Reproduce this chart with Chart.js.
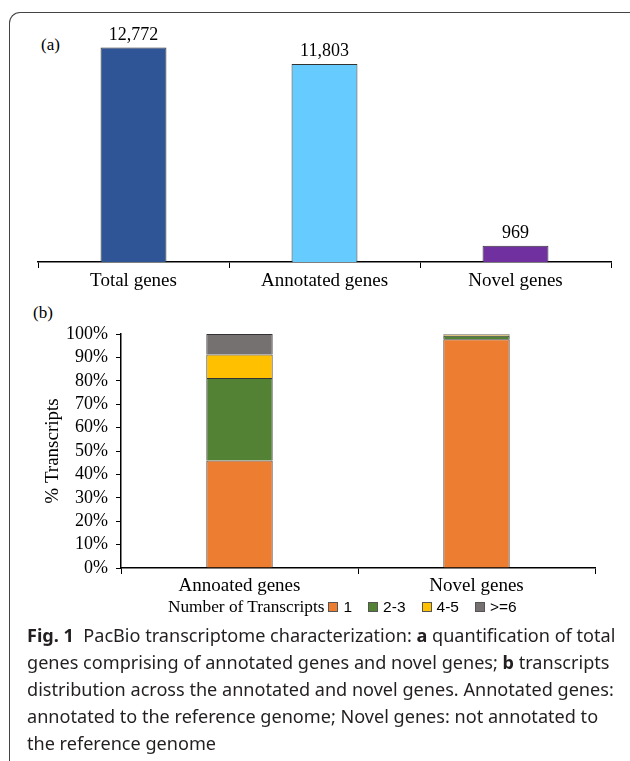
<!DOCTYPE html>
<html>
<head>
<meta charset="utf-8">
<script src="https://cdn.jsdelivr.net/npm/chart.js@4"></script>
<style>
  html, body { margin: 0; padding: 0; background: #fff; }
  body { width: 630px; height: 761px; position: relative; overflow: hidden; }
  .frame {
    position: absolute; left: 9px; top: 12px; width: 640px; height: 800px;
    border-top: 1px solid #444; border-left: 1px solid #444; border-top-left-radius: 11px;
  }
  .chart-box { position: absolute; left: 0; width: 630px; }
  .panel-label { position: absolute; font-family: "Liberation Serif", serif; font-size: 17px; color: #000; }
  .legend {
    position: absolute; left: 168px; top: 597px; display: flex; align-items: center;
    font-family: "Liberation Sans", sans-serif; font-size: 15.5px; color: #000; white-space: nowrap;
  }
  .legend .legend-title { font-family: "Liberation Serif", serif; font-size: 17.3px; margin-right: 4px; }
  .legend .swatch { width: 8px; height: 8px; border: 1px solid #555; margin-right: 5px; }
  .legend .item { display: flex; align-items: center; margin-right: 16px; }
  .caption {
    position: absolute; left: 27px; top: 622px; width: 600px;
    font-family: "Noto Sans", sans-serif; font-size: 18.1px; line-height: 27px; color: #231f20;
    white-space: nowrap;
  }
</style>
</head>
<body>
<div class="frame"></div>
<div class="panel-label" style="left:41px;top:35px;">(a)</div>
<div class="panel-label" style="left:33px;top:303px;">(b)</div>
<div class="chart-box" style="top:0;height:300px;"><canvas id="geneCountChart" width="630" height="300"></canvas></div>
<div class="chart-box" style="top:300px;height:300px;"><canvas id="transcriptChart" width="630" height="300"></canvas></div>
<div class="legend" id="transcriptLegend"><span class="legend-title">Number of Transcripts</span></div>
<div class="caption">
  <b>Fig. 1</b>&nbsp;&nbsp;PacBio transcriptome characterization: <b>a</b> quantification of total<br>
  genes comprising of annotated genes and novel genes; <b>b</b> transcripts<br>
  distribution across the annotated and novel genes. Annotated genes:<br>
  annotated to the reference genome; Novel genes: not annotated to<br>
  the reference genome
</div>

<script>
// Panel (a) data
var geneCategories = ["Total genes", "Annotated genes", "Novel genes"];
var geneCounts = [12772, 11803, 969];
var geneColors = ["#2F5597", "#66CCFF", "#7030A0"];

// Panel (b) data
var transcriptCategories = ["Annoated genes", "Novel genes"];
var transcriptGroups = ["1", "2-3", "4-5", ">=6"];
var share1 = [45.9, 97.8];
var share2to3 = [35.3, 1.5];
var share4to5 = [10.0, 0.4];
var share6plus = [8.8, 0.3];
var percentTicks = ["0%", "10%", "20%", "30%", "40%", "50%", "60%", "70%", "80%", "90%", "100%"];
var groupColors = ["#ED7D31", "#548235", "#FFC000", "#767171"];

var serif = "'Liberation Serif', 'Times New Roman', serif";

// value labels above bars
var valueLabels = {
  id: "valueLabels",
  afterDatasetsDraw: function (chart) {
    var ctx = chart.ctx;
    var meta = chart.getDatasetMeta(0);
    ctx.save();
    ctx.font = "18px " + serif;
    ctx.fillStyle = "#000";
    ctx.textAlign = "center";
    ctx.textBaseline = "alphabetic";
    meta.data.forEach(function (bar, i) {
      ctx.fillText(geneCounts[i].toLocaleString("en-US"), bar.x, bar.y - 8);
    });
    ctx.restore();
  },
};

// Gene Count Chart
var geneCtx = document.getElementById("geneCountChart").getContext("2d");
new Chart(geneCtx, {
  type: "bar",
  data: {
    labels: geneCategories,
    datasets: [
      {
        data: geneCounts,
        backgroundColor: geneColors,
        borderColor: "#333",
        borderWidth: 1,
        barPercentage: 0.345,
        categoryPercentage: 1,
      },
    ],
  },
  options: {
    responsive: false,
    animation: false,
    layout: { padding: { left: 38, right: 19, top: 27, bottom: 0 } },
    plugins: { legend: { display: false }, tooltip: { enabled: false } },
    scales: {
      x: {
        afterFit: function (scale) { scale.height = 38; },
        ticks: { color: "#000", font: { family: serif, size: 19 }, padding: 2 },
        grid: { drawOnChartArea: false, drawTicks: true, tickLength: 6, color: "#000", lineWidth: 1 },
        border: { color: "#000", width: 1.5 },
      },
      y: { display: false, min: 0, max: 14000 },
    },
  },
  plugins: [valueLabels],
});

// Transcript Distribution Chart
var transcriptSeries = [share1, share2to3, share4to5, share6plus];
var transcriptCtx = document.getElementById("transcriptChart").getContext("2d");
new Chart(transcriptCtx, {
  type: "bar",
  data: {
    labels: transcriptCategories,
    datasets: transcriptSeries.map(function (values, i) {
      return {
        label: transcriptGroups[i],
        data: values,
        backgroundColor: groupColors[i],
        borderColor: "#333",
        borderWidth: 1,
        barPercentage: 0.28,
        categoryPercentage: 1,
      };
    }),
  },
  options: {
    responsive: false,
    animation: false,
    layout: { padding: { left: 38, right: 35, top: 34, bottom: 0 } },
    plugins: { legend: { display: false }, tooltip: { enabled: false } },
    scales: {
      x: {
        stacked: true,
        afterFit: function (scale) { scale.height = 32; },
        ticks: { color: "#000", font: { family: serif, size: 19 }, padding: 1 },
        grid: { drawOnChartArea: false, drawTicks: true, tickLength: 6, color: "#000", lineWidth: 1 },
        border: { color: "#000", width: 1.5 },
      },
      y: {
        stacked: true,
        min: 0,
        max: 100,
        afterFit: function (scale) { scale.width = 83; },
        afterBuildTicks: function (scale) {
          scale.ticks = percentTicks.map(function (t) { return { value: parseFloat(t) }; });
        },
        ticks: {
          color: "#000",
          font: { family: serif, size: 18 },
          padding: 8,
          autoSkip: false,
          callback: function (value) { return value + "%"; },
        },
        grid: { drawOnChartArea: false, drawTicks: true, tickLength: 5, color: "#000", lineWidth: 1 },
        border: { color: "#000", width: 1.5 },
        title: { display: true, text: "% Transcripts", color: "#000", font: { family: serif, size: 19 }, padding: 4 },
      },
    },
  },
});

// Legend
var legendEl = document.getElementById("transcriptLegend");
transcriptGroups.forEach(function (name, i) {
  var item = document.createElement("span");
  item.className = "item";
  item.innerHTML = '<span class="swatch" style="background:' + groupColors[i] + '"></span>' + name;
  legendEl.appendChild(item);
});
</script>
</body>
</html>
